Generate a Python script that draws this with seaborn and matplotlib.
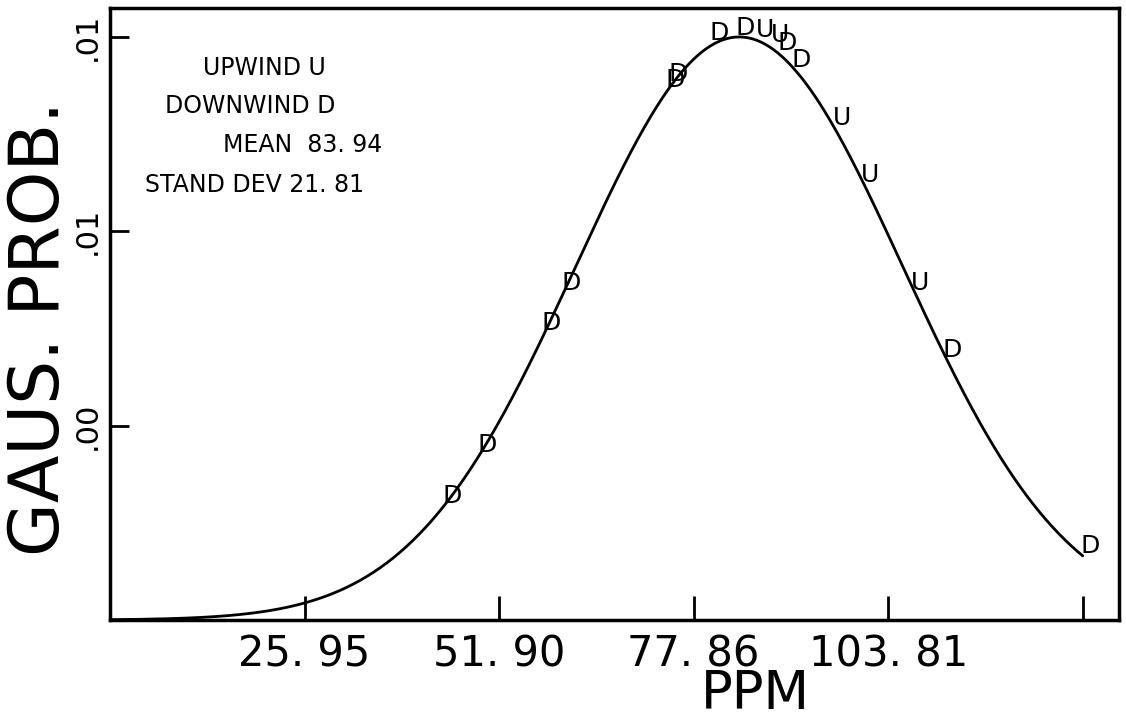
import matplotlib
matplotlib.use('Agg')

import matplotlib.pyplot as plt
import seaborn as sns
import pandas as pd
import numpy as np

# fitted gaussian stated on the chart
mean_ppm = 83.94
stand_dev = 21.81
x_max = 129.76

down_x = [45.6, 50.3, 58.8, 61.5, 75.4, 75.8, 81.3, 84.7, 90.3, 92.2, 112.4, 130.7]
down_y = [0.00389, 0.00549, 0.00932, 0.01057, 0.01694, 0.01713,
          0.01842, 0.01857, 0.01810, 0.01757, 0.00847, 0.00232]
up_x = [87.4, 89.4, 97.7, 101.4, 108.1]
up_y = [0.01851, 0.01835, 0.01575, 0.01396, 0.01057]

x_ticks = [25.95, 51.90, 77.86, 103.81, 129.76]
x_tick_labels = ['25. 95', '51. 90', '77. 86', '103. 81', '']
y_ticks = [0.0061, 0.0122, 0.0183]
y_tick_labels = ['.00', '.01', '.01']

legend_lines = ['UPWIND U', 'DOWNWIND D', 'MEAN  83. 94', 'STAND DEV 21. 81']


def main():
    sns.set_style('ticks')
    plt.rcParams['font.family'] = ['DejaVu Sans']
    plt.rcParams['text.color'] = 'black'
    plt.rcParams['xtick.color'] = 'black'
    plt.rcParams['ytick.color'] = 'black'

    xs = np.linspace(0, x_max, 600)
    curve = pd.DataFrame({
        'ppm': xs,
        'prob': np.exp(-0.5 * ((xs - mean_ppm) / stand_dev) ** 2) / (stand_dev * np.sqrt(2 * np.pi)),
    })

    fig = plt.figure(figsize=(11.26, 7.23), dpi=100)
    ax = fig.add_axes([110 / 1126, 1 - 620 / 723, 1009 / 1126, 612 / 723])

    sns.lineplot(data=curve, x='ppm', y='prob', ax=ax, color='black', linewidth=2)

    for x, y in zip(down_x, down_y):
        ax.text(x, y, 'D', ha='center', va='center', fontsize=18, color='black')
    for x, y in zip(up_x, up_y):
        ax.text(x, y, 'U', ha='center', va='center', fontsize=18, color='black')

    ax.set_xlim(0, 134.6)
    ax.set_ylim(0, 0.0192)
    ax.set_xticks(x_ticks)
    ax.set_xticklabels(x_tick_labels, fontsize=30, color='black')
    ax.set_yticks(y_ticks)
    ax.set_yticklabels(y_tick_labels, fontsize=22, rotation=90, va='center', color='black')
    ax.tick_params(axis='x', direction='in', length=17, width=2, pad=10,
                   bottom=True, top=False)
    ax.tick_params(axis='y', direction='in', length=14, width=2, pad=6,
                   left=True, right=False)
    ax.set_xlabel('')
    ax.set_ylabel('')
    for s in ax.spines.values():
        s.set_visible(True)
        s.set_linewidth(2.5)
        s.set_color('black')

    fig.text(40 / 1126, 1 - 328 / 723, 'GAUS. PROB.', rotation=90, fontsize=50,
             ha='center', va='center')
    fig.text(755 / 1126, 1 - 694 / 723, 'PPM', fontsize=38, ha='center', va='center')

    lefts = [203, 165, 223, 145]
    tops = [68, 106, 145, 185]
    for txt, lx, ty in zip(legend_lines, lefts, tops):
        fig.text(lx / 1126, 1 - ty / 723, txt, fontsize=17, ha='left', va='center')

    fig.savefig('out.png', dpi=100)


if __name__ == "__main__":
    main()
